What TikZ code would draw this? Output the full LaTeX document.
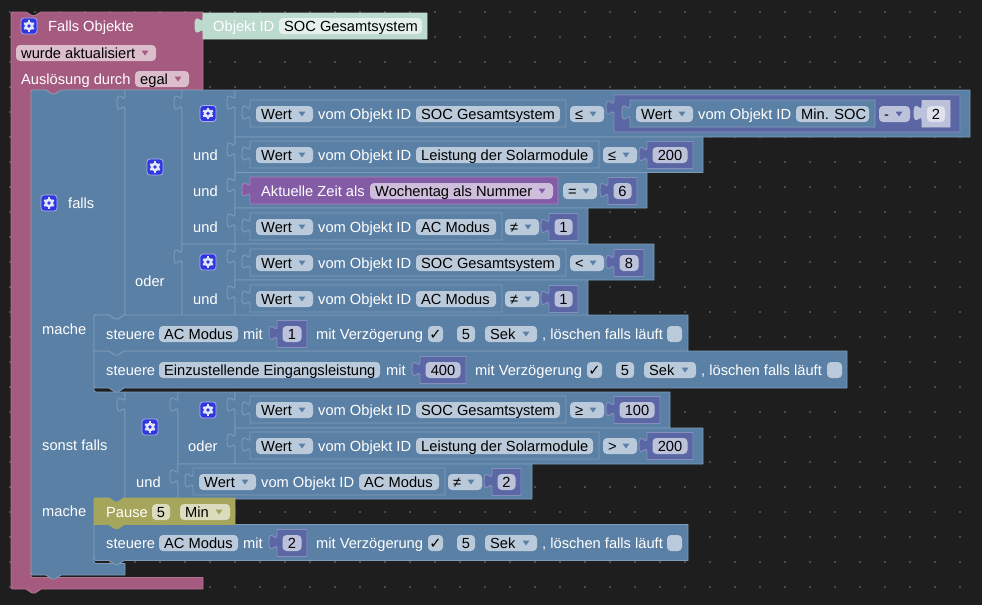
\documentclass[tikz,border=0pt]{standalone}
\usepackage{fontspec}
\setmainfont{Liberation Sans}
\newfontfamily\symfont{DejaVu Sans}
\definecolor{canvas}{HTML}{1E1E1E}
\definecolor{griddot}{HTML}{4A4A4A}
\definecolor{pinkfill}{HTML}{A55B80}
\definecolor{pinkline}{HTML}{B47392}
\definecolor{pinkfield}{HTML}{DBBDCC}
\definecolor{bluefill}{HTML}{5B80A5}
\definecolor{blueline}{HTML}{7F9BB8}
\definecolor{bluefield}{HTML}{BACADA}
\definecolor{indigofill}{HTML}{5B67A5}
\definecolor{indigoline}{HTML}{8690BE}
\definecolor{indigofield}{HTML}{BDC2DB}
\definecolor{indigopale}{HTML}{DEE0ED}
\definecolor{violetfill}{HTML}{845BA5}
\definecolor{violetline}{HTML}{A085BC}
\definecolor{violetfield}{HTML}{CEBDDB}
\definecolor{olivefill}{HTML}{A5A55B}
\definecolor{olivefield}{HTML}{DBDBBD}
\definecolor{tealfill}{HTML}{BDDACE}
\definecolor{tealfield}{HTML}{E4F0EB}
\definecolor{gearfill}{HTML}{2F37DE}
\definecolor{gearline}{HTML}{AEB2F0}
\definecolor{gearwheel}{HTML}{E4E6FB}
\newcount\labelidx
\tikzset{
  blockpart/.style={line width=0.9pt,line join=round},
  blueblock/.style={blockpart,fill=bluefill,draw=blueline},
  pinkblock/.style={blockpart,fill=pinkfill,draw=pinkline},
  indigoblock/.style={blockpart,fill=indigofill,draw=indigoline},
  paleblock/.style={blockpart,fill=indigofield,draw=indigofield},
  violetblock/.style={blockpart,fill=violetfill,draw=violetline},
  tealblock/.style={blockpart,fill=tealfill,draw=tealfill},
  oliveblock/.style={blockpart,fill=olivefill,draw=olivefill},
  labeltext/.style={anchor=base west,inner sep=0pt,text=white,font=\fontsize{14.67}{17}\selectfont},
  fieldtext/.style={labeltext,text=black},
  numbertext/.style={anchor=base,inner sep=0pt,text=black,font=\fontsize{14.67}{17}\selectfont},
}
% white caption; x = left edge, y = vertical centre of the row
\newcommand{\rowtext}[3]{\global\advance\labelidx by 1
  \node[labeltext] (t\the\labelidx) at (#1,#2+5) {#3};}
% plain rounded field
\newcommand{\plainfield}[5]{\fill[#1,rounded corners=4pt] (#2,#4-8) rectangle (#3,#4+8);
  \global\advance\labelidx by 1
  \node[fieldtext] (t\the\labelidx) at (#2+5,#4+5) {#5};}
% field with a drop-down triangle
\newcommand{\dropfield}[6]{\plainfield{#1}{#3}{#4}{#5}{#6}
  \fill[#2] (#4-14.5,#5-2.5) -- (#4-7.5,#5-2.5) -- (#4-11,#5+2.5) -- cycle;}
\newcommand{\bfield}[4]{\plainfield{bluefield}{#1}{#2}{#3}{#4}}
\newcommand{\bdrop}[4]{\dropfield{bluefield}{bluefill}{#1}{#2}{#3}{#4}}
% centred numeric field
\newcommand{\numfield}[5]{\fill[#1,rounded corners=4pt] (#2,#4-8) rectangle (#3,#4+8);
  \global\advance\labelidx by 1
  \node[numbertext] (t\the\labelidx) at ({(#2+#3)/2},#4+5) {#5};}
% value block with its puzzle tab on the left edge
\newcommand{\valueblock}[5]{\path[#1] (#2,#3) -- (#4,#3) -- (#4,#5) -- (#2,#5) -- (#2,#3+20)
  .. controls +(0,-10) and +(0,15.5) .. ++(-8,-7.5)
  .. controls +(0,-15.5) and +(0,10) .. ++(8,-7.5) -- cycle;}
% number block: coloured block around a centred field
\newcommand{\numblock}[4]{\valueblock{indigoblock}{#1}{#3-13.5}{#2}{#3+13.5}
  \numfield{indigofield}{#1+5.5}{#2-5.5}{#3}{#4}}
% object read-out: Wert / vom Objekt ID / name
\newcommand{\objread}[4]{\valueblock{blueblock}{#1}{#2-14}{#3+6}{#2+13}
  \bdrop{#1+6}{#1+63}{#2}{Wert}
  \rowtext{#1+68}{#2}{vom Objekt ID}
  \bfield{#1+166}{#3}{#2}{#4}}
% gear button
\newcommand{\gearbutton}[2]{\begin{scope}[shift={(#1,#2)}]
  \filldraw[fill=gearfill,draw=gearline,line width=0.7pt,rounded corners=3pt] (-8,-8) rectangle (8,8);
  \fill[gearwheel] (0,0) circle (4.5pt);
  \foreach \a in {30,90,...,330}
    \draw[gearwheel,line width=2.2pt] (\a:3.5pt) -- (\a:5.6pt);
  \fill[gearfill] (0,0) circle (1.9pt);
  \end{scope}}
% statement block: style, x1, y1, x2, top corner radius, y2, bottom corner radius
\newcommand{\stmtblock}[7]{\path[#1] (#2,#3+#5) .. controls (#2,#3) .. (#2+#5,#3)
  -- (#2+15,#3) -- (#2+21,#3+4) -- (#2+24,#3+4) -- (#2+30,#3) -- (#4,#3) -- (#4,#6)
  -- (#2+30,#6) -- (#2+24,#6+4) -- (#2+21,#6+4) -- (#2+15,#6) -- (#2+#7,#6) .. controls (#2,#6) .. (#2,#6-#7) -- cycle;}
\begin{document}
\begin{tikzpicture}[x=1pt,y=-1pt]
\useasboundingbox (0,0) rectangle (982,605);
\fill[canvas] (0,0) rectangle (982,605);
% workspace dots
\foreach \i in {0,...,39}
  \foreach \j in {0,...,23}
    \fill[griddot] ({10+25*\i-0.6},{12+25*\j-0.6}) rectangle ++(1.2,1.2);

% event block
\path[pinkblock] (11,16) .. controls (11,12) .. (15,12) -- (26,12) -- (32,15.5) -- (35,15.5) -- (41,12)
  -- (203,12) -- (203,90) -- (61,90) -- (55,94) -- (52,94) -- (46,90) -- (31,90) -- (31,573) .. controls (31,577.5) .. (35,577.5) -- (203,577.5)
  -- (203,589) -- (41,589) -- (35,593) -- (32,593) -- (26,589) -- (15,589) .. controls (11,589) .. (11,585) -- cycle;
\gearbutton{29}{26}
\rowtext{48}{26}{Falls Objekte}
\dropfield{pinkfield}{pinkfill}{16}{156}{53}{wurde aktualisiert}
\rowtext{21}{79}{Auslösung durch}
\dropfield{pinkfield}{pinkfill}{135}{189}{79}{egal}

% object id shadow block
\valueblock{tealblock}{203}{13}{427}{39}
\rowtext{213}{26}{Objekt ID}
\plainfield{tealfield}{279}{422}{26}{SOC Gesamtsystem}

% conditional block with its two statement openings
\path[blueblock] (31,94) .. controls (31,90) .. (35,90) -- (46,90) -- (52,94) -- (55,94) -- (61,90)
  -- (125,90) -- (125,315) -- (124,315) -- (118,319) -- (115,319) -- (109,315) -- (94,315)
  -- (94,388) .. controls (94,392) .. (98,392) -- (125,392)
  -- (125,498) -- (124,498) -- (118,502) -- (115,502) -- (109,498) -- (94,498)
  -- (94,559) .. controls (94,563.5) .. (98,563.5) -- (125,563.5) -- (125,575)
  -- (61,575) -- (55,579) -- (52,579) -- (46,575) -- (35,575) .. controls (31,575) .. (31,571) -- cycle;
\gearbutton{49}{203}
\rowtext{68}{203}{falls}
\rowtext{42}{329}{mache}
\rowtext{42}{445}{sonst falls}
\rowtext{42}{511}{mache}

% first condition: oder over two und groups
\valueblock{blueblock}{125}{90}{182}{316}
\gearbutton{155}{167}
\rowtext{135}{281}{oder}
\valueblock{blueblock}{182}{90}{235}{244}
\gearbutton{208}{113.5}
\rowtext{193}{155}{und}
\rowtext{193}{191}{und}
\rowtext{193}{227}{und}
\valueblock{blueblock}{182}{244}{235}{316}
\gearbutton{208}{262}
\rowtext{193}{299}{und}

% SOC <= Min. SOC - 2
\valueblock{blueblock}{235}{90}{970}{137}
\objread{250}{114}{560}{SOC Gesamtsystem}
\bdrop{570}{604}{114}{≤}
\valueblock{indigoblock}{614}{95}{960}{132}
\objread{630}{114}{869}{Min. SOC}
\dropfield{indigofield}{indigofill}{879}{910}{114}{-}
\valueblock{paleblock}{922}{100.5}{950}{127}
\numfield{indigopale}{927}{945}{114}{2}

% solar power <= 200
\valueblock{blueblock}{235}{137}{703}{172.5}
\objread{250}{155}{593}{Leistung der Solarmodule}
\bdrop{603}{637}{155}{≤}
\numblock{647}{693}{155}{200}

% weekday = 6
\valueblock{blueblock}{235}{172.5}{647}{208}
\valueblock{violetblock}{250}{177}{558}{204}
\rowtext{261}{191}{Aktuelle Zeit als}
\dropfield{violetfield}{violetfill}{370}{553}{191}{Wochentag als Nummer}
\bdrop{563}{597}{191}{=}
\numblock{608}{637}{191}{6}

% AC mode != 1
\valueblock{blueblock}{235}{208}{588}{244}
\objread{250}{227}{496}{AC Modus}
\bdrop{505}{539}{227}{≠}
\numblock{549}{578}{227}{1}

% SOC < 8
\valueblock{blueblock}{235}{244}{654}{280}
\objread{250}{263}{560}{SOC Gesamtsystem}
\bdrop{570}{604}{263}{<}
\numblock{614}{644}{263}{8}

% AC mode != 1, second group
\valueblock{blueblock}{235}{280}{588}{316}
\objread{250}{299}{496}{AC Modus}
\bdrop{505}{539}{299}{≠}
\numblock{549}{578}{299}{1}

% first branch statements
\stmtblock{blueblock}{94}{351}{847}{0}{388}{4}
\stmtblock{blueblock}{94}{315}{688}{4}{351}{0}
\rowtext{106}{334}{steuere}
\bfield{159}{238}{334}{AC Modus}
\rowtext{243}{334}{mit}
\numblock{277}{307}{334}{1}
\rowtext{316}{334}{mit Verzögerung}
\bfield{428}{443}{334}{}
\global\advance\labelidx by 1
\node[numbertext] (t\the\labelidx) at (435.5,339) {\symfont ✓};
\numfield{bluefield}{457}{475}{334}{5}
\bdrop{485}{537}{334}{Sek}
\rowtext{542}{334}{, löschen falls läuft}
\fill[bluefield,rounded corners=4pt] (667,326) rectangle (682,342);

\rowtext{106}{370}{steuere}
\bfield{159}{380}{370}{Einzustellende Eingangsleistung}
\rowtext{386}{370}{mit}
\numblock{420}{466}{370}{400}
\rowtext{475}{370}{mit Verzögerung}
\bfield{587}{602}{370}{}
\global\advance\labelidx by 1
\node[numbertext] (t\the\labelidx) at (594.5,375) {\symfont ✓};
\numfield{bluefield}{616}{634}{370}{5}
\bdrop{644}{696}{370}{Sek}
\rowtext{701}{370}{, löschen falls läuft}
\fill[bluefield,rounded corners=4pt] (827,362) rectangle (842,378);

% second condition: und over an oder group
\valueblock{blueblock}{125}{392}{178}{499}
\gearbutton{150}{427}
\rowtext{136}{482}{und}
\valueblock{blueblock}{178}{392}{235}{464}
\gearbutton{208}{410}
\rowtext{188}{446}{oder}

\valueblock{blueblock}{235}{392}{670}{428}
\objread{250}{410}{560}{SOC Gesamtsystem}
\bdrop{570}{604}{410}{≥}
\numblock{614}{660}{410}{100}

\valueblock{blueblock}{235}{428}{703}{464}
\objread{250}{446}{593}{Leistung der Solarmodule}
\bdrop{603}{637}{446}{>}
\numblock{647}{693}{446}{200}

\valueblock{blueblock}{178}{464}{532}{499}
\objread{193}{482}{439}{AC Modus}
\bdrop{448}{482}{482}{≠}
\numblock{492}{521}{482}{2}

% second branch statements
\stmtblock{blueblock}{94}{524.5}{688}{0}{560.5}{4}
\path[oliveblock] (94,502) .. controls (94,498) .. (98,498) -- (109,498) -- (115,502) -- (118,502) -- (124,498)
  -- (235,498) -- (235,524.5) -- (124,524.5) -- (118,528.5) -- (115,528.5) -- (109,524.5) -- (94,524.5) -- cycle;
\rowtext{106}{512}{Pause}
\numfield{olivefield}{152}{170}{512}{5}
\dropfield{olivefield}{olivefill}{180}{230}{512}{Min}

\rowtext{106}{543}{steuere}
\bfield{159}{238}{543}{AC Modus}
\rowtext{243}{543}{mit}
\numblock{277}{307}{543}{2}
\rowtext{316}{543}{mit Verzögerung}
\bfield{428}{443}{543}{}
\global\advance\labelidx by 1
\node[numbertext] (t\the\labelidx) at (435.5,548) {\symfont ✓};
\numfield{bluefield}{457}{475}{543}{5}
\bdrop{485}{537}{543}{Sek}
\rowtext{542}{543}{, löschen falls läuft}
\fill[bluefield,rounded corners=4pt] (667,535) rectangle (682,551);
\end{tikzpicture}
\end{document}
